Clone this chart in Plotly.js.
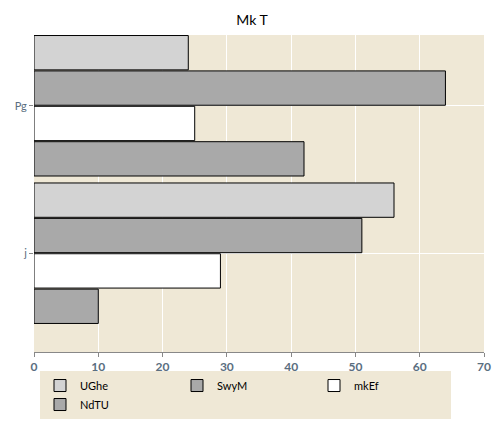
<!DOCTYPE html>
<html>
<head>
<script src="https://cdn.plot.ly/plotly-3.0.1.min.js"></script>
<style>body{margin:0}</style>
</head>
<body>
<div id="myPlot" style="width:504px;height:432px"></div>
<script>
var categories = ['Pg', 'j'];
var names = ['UGhe', 'SwyM', 'mkEf', 'NdTU'];
var colors = ['#d3d3d3', '#a9a9a9', '#ffffff', '#a9a9a9'];
var UGhe = [24, 56];
var SwyM = [64, 51];
var mkEf = [25, 29];
var NdTU = [42, 10];
var results = [UGhe, SwyM, mkEf, NdTU];

var traces = [];
for (var i = 0; i < results.length; i++) {
  traces.push({
    y: categories,
    x: results[i],
    name: names[i],
    type: 'bar',
    orientation: 'h',
    marker: {color: colors[i], line: {color: '#000', width: 1}}
  });
}

var layout = {
  width: 504,
  height: 432,
  font: {family: 'Lato', size: 11, color: '#333'},
  title: {text: 'Mk T', font: {family: 'Lato', size: 14, color: '#000'}, x: 0.5, y: 0.965},
  paper_bgcolor: '#ffffff',
  plot_bgcolor: '#efe8d6',
  margin: {l: 34, r: 20, t: 35, b: 80},
  barmode: 'group',
  bargap: 0.04,
  bargroupgap: 0.03,
  xaxis: {
    range: [0, 70],
    dtick: 10,
    gridcolor: '#ffffff',
    zeroline: false,
    ticks: 'outside',
    ticklen: 4,
    tickcolor: '#888',
    showline: true,
    linecolor: '#888',
    tickfont: {family: 'Lato', size: 12, color: '#5a6e80', weight: 'bold'}
  },
  yaxis: {
    range: [1.67, -0.48],
    showgrid: true,
    gridcolor: '#ffffff',
    ticks: 'outside',
    ticklen: 4,
    tickcolor: '#888',
    tickfont: {family: 'Lato', size: 11, color: '#5a6e80'}
  },
  legend: {
    orientation: 'h',
    x: 0.47,
    xanchor: 'center',
    y: -0.06,
    yanchor: 'top',
    bgcolor: '#efe8d6',
    font: {family: 'Lato', size: 11, color: '#000'},
    traceorder: 'normal',
    entrywidth: 92
  },
  showlegend: true
};

Plotly.newPlot('myPlot', traces, layout, {displayModeBar: false});
</script>
</body>
</html>
